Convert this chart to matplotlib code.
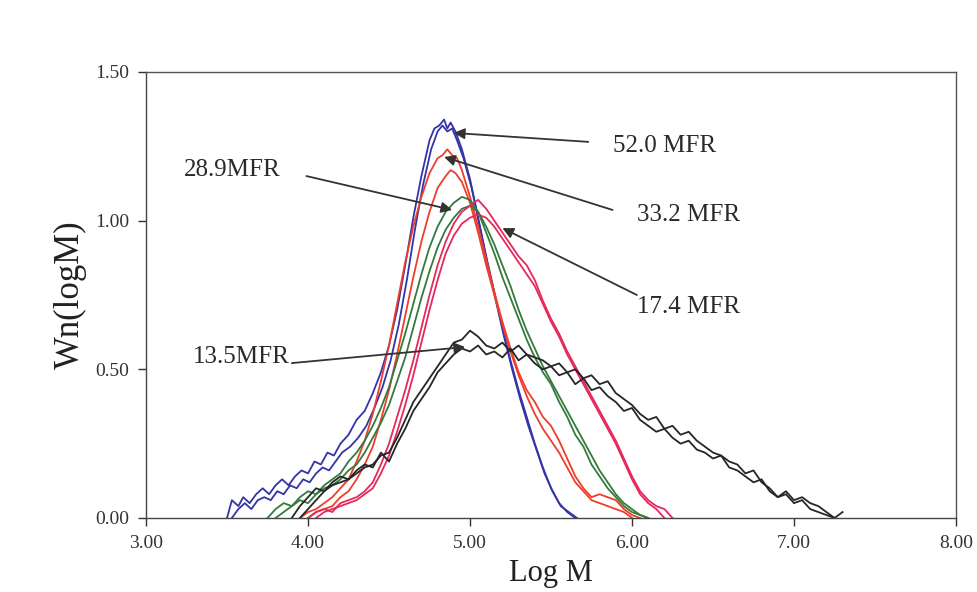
import matplotlib
matplotlib.use("Agg")
import matplotlib.pyplot as plt

plt.rcParams['font.family'] = ['Liberation Serif', 'DejaVu Serif']

# ---- data ----
blue_a_x = [3.50, 3.53, 3.57, 3.60, 3.64, 3.68, 3.72, 3.76, 3.80, 3.84, 3.88, 3.92, 3.96, 4.00, 4.04, 4.08, 4.12, 4.16, 4.20, 4.25, 4.30, 4.35, 4.40, 4.45, 4.50, 4.55, 4.60, 4.65, 4.70, 4.75, 4.78, 4.81, 4.84, 4.86, 4.88, 4.91, 4.95, 5.00, 5.05, 5.10, 5.15, 5.20, 5.25, 5.30, 5.35, 5.40, 5.45, 5.50, 5.55, 5.60, 5.65]
blue_a_y = [0.00, 0.06, 0.04, 0.07, 0.05, 0.08, 0.10, 0.08, 0.11, 0.13, 0.11, 0.14, 0.16, 0.15, 0.19, 0.18, 0.22, 0.21, 0.25, 0.28, 0.33, 0.36, 0.42, 0.49, 0.58, 0.70, 0.85, 1.01, 1.15, 1.27, 1.31, 1.32, 1.34, 1.31, 1.33, 1.30, 1.24, 1.14, 1.01, 0.88, 0.76, 0.64, 0.53, 0.43, 0.34, 0.25, 0.17, 0.10, 0.05, 0.02, 0.00]
blue_b_x = [3.53, 3.57, 3.61, 3.65, 3.69, 3.73, 3.77, 3.81, 3.85, 3.89, 3.93, 3.97, 4.01, 4.05, 4.09, 4.13, 4.17, 4.21, 4.26, 4.31, 4.36, 4.41, 4.46, 4.51, 4.56, 4.61, 4.66, 4.71, 4.76, 4.80, 4.83, 4.86, 4.89, 4.92, 4.96, 5.01, 5.06, 5.11, 5.16, 5.21, 5.26, 5.31, 5.36, 5.41, 5.46, 5.51, 5.56, 5.61, 5.66]
blue_b_y = [0.00, 0.03, 0.05, 0.03, 0.06, 0.07, 0.06, 0.09, 0.08, 0.11, 0.10, 0.13, 0.12, 0.15, 0.17, 0.16, 0.19, 0.22, 0.24, 0.27, 0.31, 0.37, 0.44, 0.53, 0.65, 0.80, 0.97, 1.12, 1.24, 1.30, 1.32, 1.30, 1.31, 1.27, 1.21, 1.11, 0.98, 0.85, 0.73, 0.61, 0.50, 0.40, 0.31, 0.23, 0.15, 0.09, 0.04, 0.02, 0.00]

red_a_x = [3.95, 4.00, 4.05, 4.10, 4.15, 4.20, 4.25, 4.30, 4.35, 4.40, 4.45, 4.50, 4.55, 4.60, 4.65, 4.70, 4.75, 4.80, 4.83, 4.86, 4.89, 4.92, 4.95, 5.00, 5.05, 5.10, 5.15, 5.20, 5.25, 5.30, 5.35, 5.40, 5.45, 5.50, 5.55, 5.60, 5.65, 5.70, 5.75, 5.80, 5.85, 5.90, 5.95, 6.00, 6.05]
red_a_y = [0.00, 0.02, 0.03, 0.05, 0.07, 0.10, 0.13, 0.19, 0.26, 0.35, 0.46, 0.58, 0.72, 0.86, 0.98, 1.08, 1.16, 1.21, 1.22, 1.24, 1.22, 1.21, 1.17, 1.08, 0.98, 0.87, 0.76, 0.66, 0.57, 0.49, 0.43, 0.39, 0.34, 0.31, 0.26, 0.20, 0.14, 0.10, 0.07, 0.08, 0.07, 0.06, 0.03, 0.01, 0.00]
red_b_x = [4.00, 4.05, 4.10, 4.15, 4.20, 4.25, 4.30, 4.35, 4.40, 4.45, 4.50, 4.55, 4.60, 4.65, 4.70, 4.75, 4.80, 4.85, 4.88, 4.91, 4.95, 5.00, 5.05, 5.10, 5.15, 5.20, 5.25, 5.30, 5.35, 5.40, 5.45, 5.50, 5.55, 5.60, 5.65, 5.70, 5.75, 5.80, 5.85, 5.90, 5.95, 6.00]
red_b_y = [0.00, 0.02, 0.03, 0.04, 0.07, 0.09, 0.13, 0.18, 0.24, 0.33, 0.43, 0.55, 0.68, 0.81, 0.93, 1.03, 1.11, 1.15, 1.17, 1.16, 1.13, 1.06, 0.96, 0.85, 0.75, 0.65, 0.56, 0.48, 0.41, 0.35, 0.30, 0.26, 0.22, 0.17, 0.12, 0.09, 0.06, 0.05, 0.04, 0.03, 0.02, 0.00]

green_a_x = [3.75, 3.80, 3.85, 3.90, 3.95, 4.00, 4.05, 4.10, 4.15, 4.20, 4.25, 4.30, 4.35, 4.40, 4.45, 4.50, 4.55, 4.60, 4.65, 4.70, 4.75, 4.80, 4.85, 4.90, 4.95, 5.00, 5.05, 5.10, 5.15, 5.20, 5.25, 5.30, 5.35, 5.40, 5.45, 5.50, 5.55, 5.60, 5.65, 5.70, 5.75, 5.80, 5.85, 5.90, 5.95, 6.00, 6.05, 6.10]
green_a_y = [0.00, 0.03, 0.05, 0.04, 0.07, 0.09, 0.08, 0.11, 0.13, 0.15, 0.19, 0.22, 0.26, 0.31, 0.37, 0.44, 0.53, 0.62, 0.72, 0.82, 0.91, 0.98, 1.03, 1.06, 1.08, 1.07, 1.03, 0.96, 0.89, 0.81, 0.74, 0.67, 0.60, 0.54, 0.49, 0.45, 0.39, 0.34, 0.28, 0.24, 0.18, 0.14, 0.10, 0.07, 0.04, 0.02, 0.01, 0.00]
green_b_x = [3.80, 3.85, 3.90, 3.95, 4.00, 4.05, 4.10, 4.15, 4.20, 4.25, 4.30, 4.35, 4.40, 4.45, 4.50, 4.55, 4.60, 4.65, 4.70, 4.75, 4.80, 4.85, 4.90, 4.95, 5.00, 5.05, 5.10, 5.15, 5.20, 5.25, 5.30, 5.35, 5.40, 5.45, 5.50, 5.55, 5.60, 5.65, 5.70, 5.75, 5.80, 5.85, 5.90, 5.95, 6.00, 6.05, 6.10]
green_b_y = [0.00, 0.02, 0.04, 0.06, 0.05, 0.08, 0.10, 0.11, 0.13, 0.16, 0.18, 0.22, 0.27, 0.32, 0.38, 0.46, 0.54, 0.64, 0.74, 0.83, 0.91, 0.97, 1.01, 1.04, 1.05, 1.03, 0.98, 0.92, 0.85, 0.78, 0.70, 0.63, 0.57, 0.51, 0.46, 0.41, 0.36, 0.31, 0.26, 0.21, 0.16, 0.12, 0.08, 0.05, 0.03, 0.01, 0.00]

pink_a_x = [4.00, 4.05, 4.10, 4.15, 4.20, 4.25, 4.30, 4.35, 4.40, 4.45, 4.50, 4.55, 4.60, 4.65, 4.70, 4.75, 4.80, 4.85, 4.90, 4.95, 5.00, 5.05, 5.10, 5.15, 5.20, 5.25, 5.30, 5.35, 5.40, 5.45, 5.50, 5.55, 5.60, 5.65, 5.70, 5.75, 5.80, 5.85, 5.90, 5.95, 6.00, 6.05, 6.10, 6.15, 6.20, 6.25]
pink_a_y = [0.00, 0.02, 0.03, 0.02, 0.05, 0.06, 0.07, 0.09, 0.12, 0.18, 0.25, 0.34, 0.43, 0.53, 0.64, 0.75, 0.85, 0.93, 0.99, 1.03, 1.05, 1.07, 1.04, 1.00, 0.96, 0.92, 0.88, 0.85, 0.80, 0.73, 0.67, 0.62, 0.56, 0.51, 0.46, 0.41, 0.36, 0.31, 0.26, 0.20, 0.14, 0.09, 0.06, 0.04, 0.03, 0.00]
pink_b_x = [4.05, 4.10, 4.15, 4.20, 4.25, 4.30, 4.35, 4.40, 4.45, 4.50, 4.55, 4.60, 4.65, 4.70, 4.75, 4.80, 4.85, 4.90, 4.95, 5.00, 5.05, 5.10, 5.15, 5.20, 5.25, 5.30, 5.35, 5.40, 5.45, 5.50, 5.55, 5.60, 5.65, 5.70, 5.75, 5.80, 5.85, 5.90, 5.95, 6.00, 6.05, 6.10, 6.15, 6.20]
pink_b_y = [0.00, 0.02, 0.03, 0.04, 0.05, 0.06, 0.08, 0.10, 0.15, 0.21, 0.29, 0.38, 0.48, 0.59, 0.70, 0.80, 0.89, 0.95, 0.99, 1.01, 1.02, 1.01, 0.98, 0.94, 0.90, 0.86, 0.82, 0.78, 0.72, 0.66, 0.61, 0.55, 0.50, 0.45, 0.40, 0.35, 0.30, 0.25, 0.19, 0.13, 0.08, 0.05, 0.03, 0.00]

black_a_x = [3.95, 4.00, 4.05, 4.10, 4.15, 4.20, 4.25, 4.30, 4.35, 4.40, 4.45, 4.50, 4.55, 4.60, 4.65, 4.70, 4.75, 4.80, 4.85, 4.90, 4.95, 5.00, 5.05, 5.10, 5.15, 5.20, 5.25, 5.30, 5.35, 5.40, 5.45, 5.50, 5.55, 5.60, 5.65, 5.70, 5.75, 5.80, 5.85, 5.90, 5.95, 6.00, 6.05, 6.10, 6.15, 6.20, 6.25, 6.30, 6.35, 6.40, 6.45, 6.50, 6.55, 6.60, 6.65, 6.70, 6.75, 6.80, 6.85, 6.90, 6.95, 7.00, 7.05, 7.10, 7.15, 7.20, 7.25, 7.30]
black_a_y = [0.00, 0.03, 0.06, 0.09, 0.11, 0.12, 0.13, 0.15, 0.17, 0.18, 0.21, 0.22, 0.27, 0.33, 0.39, 0.43, 0.47, 0.51, 0.55, 0.59, 0.60, 0.63, 0.61, 0.58, 0.57, 0.59, 0.56, 0.58, 0.55, 0.54, 0.53, 0.51, 0.52, 0.49, 0.50, 0.47, 0.48, 0.45, 0.46, 0.42, 0.40, 0.38, 0.35, 0.33, 0.34, 0.30, 0.31, 0.28, 0.29, 0.26, 0.24, 0.22, 0.21, 0.19, 0.18, 0.15, 0.16, 0.12, 0.10, 0.07, 0.09, 0.06, 0.07, 0.05, 0.04, 0.02, 0.00, 0.02]
black_b_x = [3.90, 3.95, 4.00, 4.05, 4.10, 4.15, 4.20, 4.25, 4.30, 4.35, 4.40, 4.45, 4.50, 4.55, 4.60, 4.65, 4.70, 4.75, 4.80, 4.85, 4.90, 4.95, 5.00, 5.05, 5.10, 5.15, 5.20, 5.25, 5.30, 5.35, 5.40, 5.45, 5.50, 5.55, 5.60, 5.65, 5.70, 5.75, 5.80, 5.85, 5.90, 5.95, 6.00, 6.05, 6.10, 6.15, 6.20, 6.25, 6.30, 6.35, 6.40, 6.45, 6.50, 6.55, 6.60, 6.65, 6.70, 6.75, 6.80, 6.85, 6.90, 6.95, 7.00, 7.05, 7.10, 7.15, 7.20, 7.25]
black_b_y = [0.00, 0.04, 0.07, 0.10, 0.09, 0.12, 0.14, 0.13, 0.16, 0.18, 0.17, 0.22, 0.19, 0.25, 0.30, 0.36, 0.40, 0.44, 0.49, 0.52, 0.55, 0.57, 0.56, 0.58, 0.55, 0.56, 0.54, 0.57, 0.53, 0.55, 0.52, 0.50, 0.51, 0.48, 0.49, 0.45, 0.47, 0.43, 0.44, 0.41, 0.39, 0.36, 0.37, 0.33, 0.31, 0.29, 0.30, 0.27, 0.25, 0.26, 0.23, 0.22, 0.20, 0.21, 0.17, 0.16, 0.14, 0.12, 0.13, 0.09, 0.07, 0.08, 0.05, 0.06, 0.03, 0.02, 0.01, 0.00]

x_ticks = [3.00, 4.00, 5.00, 6.00, 7.00, 8.00]
y_ticks = [0.00, 0.50, 1.00, 1.50]

labels = ["52.0 MFR", "33.2 MFR", "28.9MFR", "17.4 MFR", "13.5MFR"]
label_xy = [(5.88, 1.25), (6.03, 1.02), (3.83, 1.17), (6.03, 0.71), (3.89, 0.54)]
label_ha = ["left", "left", "right", "left", "right"]
arrow_from = [(5.73, 1.265), (5.88, 1.036), (3.99, 1.150), (6.03, 0.750), (3.90, 0.521)]
arrow_to = [(4.90, 1.295), (4.84, 1.214), (4.89, 1.036), (5.20, 0.975), (4.97, 0.575)]

# ---- plot ----
fig = plt.figure(figsize=(9.78, 5.92), dpi=100)
ax = fig.add_axes([0.1493, 0.125, 0.8282, 0.7534])

blue = "#3434a6"
red = "#ee3d2a"
green = "#347a3c"
pink = "#e6285c"
black = "#262626"
lw = 1.3
ax.plot(blue_a_x, blue_a_y, color=blue, lw=lw)
ax.plot(blue_b_x, blue_b_y, color=blue, lw=lw)
ax.plot(red_a_x, red_a_y, color=red, lw=lw)
ax.plot(red_b_x, red_b_y, color=red, lw=lw)
ax.plot(green_a_x, green_a_y, color=green, lw=lw)
ax.plot(green_b_x, green_b_y, color=green, lw=lw)
ax.plot(pink_a_x, pink_a_y, color=pink, lw=lw)
ax.plot(pink_b_x, pink_b_y, color=pink, lw=lw)
ax.plot(black_a_x, black_a_y, color=black, lw=lw)
ax.plot(black_b_x, black_b_y, color=black, lw=lw)

for lab, (tx, ty), ha, (fx, fy), (px, py) in zip(labels, label_xy, label_ha, arrow_from, arrow_to):
    ax.text(tx, ty, lab, ha=ha, va="center", fontsize=18, color="#2a2a2a")
    ax.annotate("", xy=(px, py), xytext=(fx, fy),
                arrowprops=dict(arrowstyle="-|>", color="#333333", lw=1.3,
                                mutation_scale=16, shrinkA=0, shrinkB=0))

ax.set_xlim(3, 8)
ax.set_ylim(0, 1.5)
ax.set_xticks(x_ticks)
ax.set_yticks(y_ticks)
ax.set_xticklabels([f"{v:.2f}" for v in x_ticks])
ax.set_yticklabels([f"{v:.2f}" for v in y_ticks])
ax.tick_params(direction="out", length=6, width=1, labelsize=14, colors="#333333", pad=6)
for s in ax.spines.values():
    s.set_color("#555555")
    s.set_linewidth(1.0)
ax.spines["left"].set_color("#444444")
ax.spines["bottom"].set_color("#444444")

ax.set_xlabel("Log M", fontsize=22, color="#222222", labelpad=5)
ax.set_ylabel("Wn(logM)", fontsize=25, color="#222222", labelpad=6)

fig.savefig("out.png", dpi=100, facecolor="white")
